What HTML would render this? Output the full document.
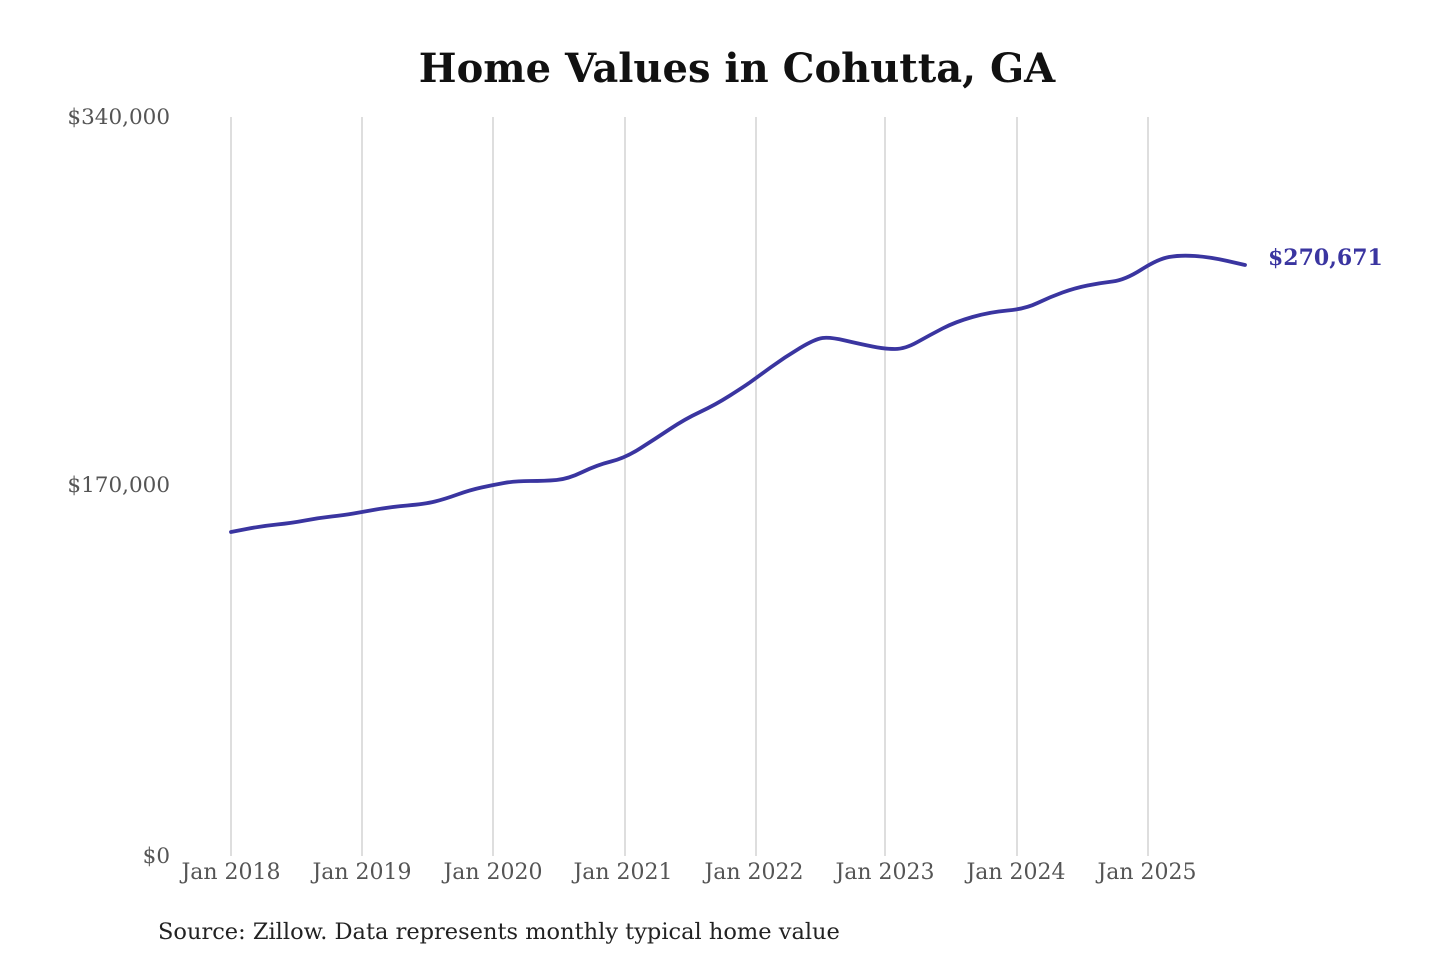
<!DOCTYPE html>
<html><head><meta charset="utf-8"><style>
html,body{margin:0;padding:0;background:#fff;}
svg{display:block;}
text{font-family:"DejaVu Serif","Liberation Serif",serif;}
</style></head><body>
<svg width="1440" height="960" viewBox="0 0 1440 960" xmlns="http://www.w3.org/2000/svg">
<rect width="1440" height="960" fill="#fff"/>
<text x="737" y="82" text-anchor="middle" font-size="40" font-weight="bold" fill="#111">Home Values in Cohutta, GA</text>
<g stroke="#c8c8c8" stroke-width="1.2">
<line x1="231" y1="117" x2="231" y2="856"/>
<line x1="362" y1="117" x2="362" y2="856"/>
<line x1="493" y1="117" x2="493" y2="856"/>
<line x1="625" y1="117" x2="625" y2="856"/>
<line x1="756" y1="117" x2="756" y2="856"/>
<line x1="885" y1="117" x2="885" y2="856"/>
<line x1="1017" y1="117" x2="1017" y2="856"/>
<line x1="1148" y1="117" x2="1148" y2="856"/>
</g>
<g font-size="21.5" fill="#555" text-anchor="end">
<text x="170" y="124">$340,000</text>
<text x="170" y="492">$170,000</text>
<text x="170" y="863">$0</text>
</g>
<g font-size="22" fill="#555" text-anchor="middle">
<text x="231" y="879">Jan 2018</text>
<text x="362" y="879">Jan 2019</text>
<text x="493" y="879">Jan 2020</text>
<text x="623" y="879">Jan 2021</text>
<text x="754" y="879">Jan 2022</text>
<text x="885" y="879">Jan 2023</text>
<text x="1016" y="879">Jan 2024</text>
<text x="1147" y="879">Jan 2025</text>
</g>
<path fill="none" stroke="#3a35a0" stroke-width="3.8" stroke-linejoin="round" stroke-linecap="round" d="M231,532 L246.5,529 Q262,526 277,524.5 Q292,523 305,520.5 Q318,518 331.5,516.5 Q345,515 353.5,513.5 Q362,512 376,509.5 Q390,507 407.5,505.5 Q425,504 435,501.5 Q445,499 457.5,494.5 Q470,490 481.5,487.5 Q493,485 504,483 Q515,481 530,481 Q545,481 556.5,480 Q568,479 582.5,472 Q597,465 611,461.5 Q625,458 640,448.5 Q655,439 670,429 Q685,419 700,412 Q715,405 730,395.5 Q745,386 750.5,382 Q756,378 770.5,367.5 Q785,357 800,348 Q815,339 822.5,338 Q830,337 845,340.5 Q860,344 872.5,346.5 Q885,349 895,349 Q905,349 917.5,342 Q930,335 942.5,328.5 Q955,322 972.5,317 Q990,312 1007.5,310.5 Q1025,309 1037.5,303 Q1050,297 1062.5,292.5 Q1075,288 1087.5,285.5 Q1100,283 1112.5,281.5 Q1125,280 1141.5,269.5 Q1158,259 1169,257 Q1180,255 1195,256 Q1210,257 1227.5,261 L1245,265"/>
<text x="1268" y="265" font-size="22" font-weight="bold" fill="#3a35a0">$270,671</text>
<text x="158" y="939" font-size="22.5" fill="#222">Source: Zillow. Data represents monthly typical home value</text>
</svg>
</body></html>
